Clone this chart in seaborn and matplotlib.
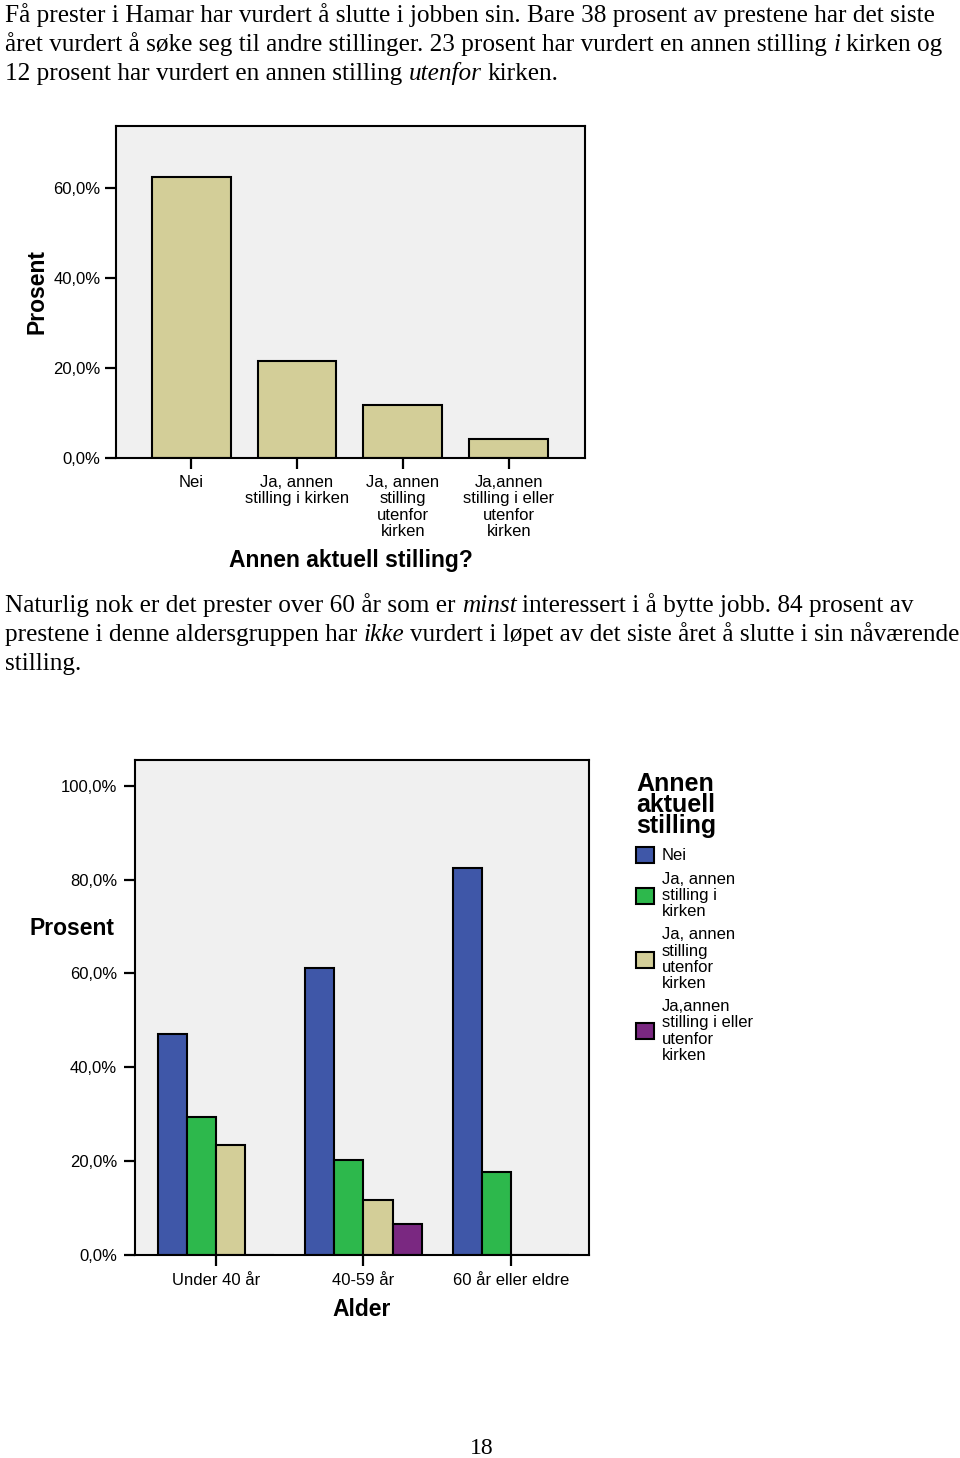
import numpy as np
import pandas as pd
import matplotlib
matplotlib.use("Agg")
import matplotlib.pyplot as plt
from matplotlib.patches import Patch
from matplotlib.ticker import FuncFormatter
import seaborn as sns

# --- data ---
CATEGORIES = ["Nei", "Ja, annen stilling i kirken", "Ja, annen stilling utenfor kirken",
              "Ja,annen stilling i eller utenfor kirken"]
TICK_LABELS = ["Nei", "Ja, annen\nstilling i kirken", "Ja, annen\nstilling\nutenfor\nkirken",
               "Ja,annen\nstilling i eller\nutenfor\nkirken"]
LEGEND_LABELS = ["Nei", "Ja, annen\nstilling i\nkirken", "Ja, annen\nstilling\nutenfor\nkirken",
                 "Ja,annen\nstilling i eller\nutenfor\nkirken"]
ALL_PCT = [62.4, 21.6, 11.8, 4.2]

AGES = ["Under 40 år", "40-59 år", "60 år eller eldre"]
NEI = [47.1, 61.2, 82.4]
I_KIRKEN = [29.5, 20.3, 17.6]
UTENFOR = [23.4, 11.8, 0.0]
BEGGE = [0.0, 6.7, 0.0]

COLORS = ["#3F57A8", "#2DB84C", "#D3CE98", "#7A2881"]
BEIGE = "#D3CE98"
PANEL = "#F0F0F0"

W, H = 960, 1458
SERIF = ["Liberation Serif", "DejaVu Serif"]
SANS = ["Liberation Sans", "DejaVu Sans"]

sns.set_style("ticks")
plt.rcParams["font.family"] = SANS
plt.rcParams["axes.linewidth"] = 1.5
for key in ["text.color", "axes.labelcolor", "xtick.color", "ytick.color", "axes.edgecolor"]:
    plt.rcParams[key] = "black"

fig = plt.figure(figsize=(W / 100, H / 100), dpi=100)
renderer = fig.canvas.get_renderer()


def px_axes(left, top, right, bottom):
    return fig.add_axes([left / W, 1 - bottom / H, (right - left) / W, (bottom - top) / H])


# --- body text with a few italic words ---
FS = 18.2
probe_a = fig.text(0, 0, "x x", family=SERIF, size=FS)
probe_b = fig.text(0, 0, "xx", family=SERIF, size=FS)
SPACE = probe_a.get_window_extent(renderer).width - probe_b.get_window_extent(renderer).width
probe_a.remove()
probe_b.remove()


def text_line(y_px, parts):
    x = 5
    for txt, style in parts:
        t = fig.text(x / W, 1 - y_px / H, txt, family=SERIF, size=FS, style=style, va="baseline")
        x += t.get_window_extent(renderer).width + SPACE
        if style == "italic":
            x -= 1


text_line(22, [("Få prester i Hamar har vurdert å slutte i jobben sin. Bare 38 prosent av prestene har det siste", "normal")])
text_line(51, [("året vurdert å søke seg til andre stillinger. 23 prosent har vurdert en annen stilling", "normal"),
               ("i", "italic"), ("kirken og", "normal")])
text_line(80, [("12 prosent har vurdert en annen stilling", "normal"), ("utenfor", "italic"), ("kirken.", "normal")])

text_line(612, [("Naturlig nok er det prester over 60 år som er", "normal"), ("minst", "italic"),
                ("interessert i å bytte jobb. 84 prosent av", "normal")])
text_line(641, [("prestene i denne aldersgruppen har", "normal"), ("ikke", "italic"),
                ("vurdert i løpet av det siste året å slutte i sin nåværende", "normal")])
text_line(670, [("stilling.", "normal")])

fig.text(482 / W, 1 - 1448 / H, "18", family=SERIF, size=17, ha="center", va="center")

pct_fmt = FuncFormatter(lambda v, pos: f"{v:.1f}%".replace(".", ","))

# --- chart 1: all priests ---
ax1 = px_axes(116, 126, 585, 458)
sns.barplot(x=CATEGORIES, y=ALL_PCT, color=BEIGE, edgecolor="black", linewidth=1.5,
            width=0.745, saturation=1, ax=ax1)
ax1.set_facecolor(PANEL)
ax1.set_xlim(-0.71, 3.72)
ax1.set_ylim(0, 73.8)
ax1.set_yticks([0, 20, 40, 60])
ax1.yaxis.set_major_formatter(pct_fmt)
ax1.set_xticks(range(4))
ax1.set_xticklabels(TICK_LABELS, linespacing=1.12)
ax1.tick_params(length=8, width=1.6, labelsize=12, pad=3)
ax1.tick_params(axis="x", pad=4)
for s in ax1.spines.values():
    s.set_visible(True)
ax1.set_xlabel("Annen aktuell stilling?", fontsize=16.5, fontweight="bold", va="center")
ax1.xaxis.set_label_coords(0.5, -(561 - 458) / 332)
ax1.set_ylabel("Prosent", fontsize=16.5, fontweight="bold", va="center")
ax1.yaxis.set_label_coords((37 - 116) / 469, 0.5)

# --- chart 2: by age group ---
df = pd.DataFrame({
    "Alder": AGES * 4,
    "Kategori": [c for c in CATEGORIES for _ in AGES],
    "Prosent": NEI + I_KIRKEN + UTENFOR + BEGGE,
})
ax2 = px_axes(135, 760, 589, 1255)
sns.barplot(data=df, x="Alder", y="Prosent", hue="Kategori", hue_order=CATEGORIES,
            palette=COLORS, edgecolor="black", linewidth=1.5, width=0.79, saturation=1,
            errorbar=None, legend=False, ax=ax2)
ax2.set_facecolor(PANEL)
ax2.set_xlim(-0.55, 2.53)
ax2.set_ylim(0, 105.5)
ax2.set_yticks([0, 20, 40, 60, 80, 100])
ax2.yaxis.set_major_formatter(pct_fmt)
ax2.tick_params(length=8, width=1.6, labelsize=12, pad=5)
for s in ax2.spines.values():
    s.set_visible(True)
ax2.set_xlabel("Alder", fontsize=16.5, fontweight="bold", va="center")
ax2.xaxis.set_label_coords(0.5, -(1309 - 1255) / 495)
ax2.set_ylabel("Prosent", fontsize=16.5, fontweight="bold", rotation=0, ha="center", va="center")
ax2.yaxis.set_label_coords((72 - 135) / 454, (1255 - 929) / 495)

handles = [Patch(facecolor=c, edgecolor="black", linewidth=1.5) for c in COLORS]
leg = fig.legend(handles, LEGEND_LABELS, title="Annen\naktuell\nstilling", loc="upper left",
                 bbox_to_anchor=(636 / W, 1 - 772 / H), frameon=False, fontsize=12,
                 alignment="left", borderpad=0, borderaxespad=0, handlelength=1.1,
                 handleheight=1.1, handletextpad=0.45, labelspacing=0.5)
leg.get_title().set_fontsize(18)
leg.get_title().set_fontweight("bold")
leg.get_title().set_linespacing(0.85)
for t in leg.get_texts():
    t.set_linespacing(1.1)

fig.savefig("out.png", dpi=100)
